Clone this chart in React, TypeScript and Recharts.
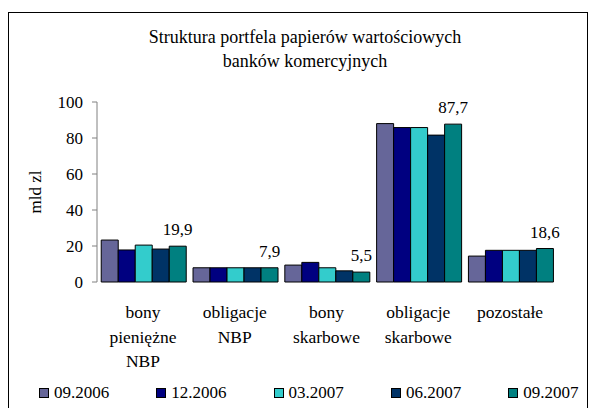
import { Bar, BarChart, LabelList, Legend, XAxis, YAxis } from "recharts";

const categories = [
	"bony\npieniężne\nNBP",
	"obligacje\nNBP",
	"bony\nskarbowe",
	"obligacje\nskarbowe",
	"pozostałe",
];
const seriesNames = ["09.2006", "12.2006", "03.2007", "06.2007", "09.2007"];
const seriesColors = ["#666699", "#000080", "#33CCCC", "#003366", "#008080"];
const values0906 = [23.3, 7.9, 9.4, 88.0, 14.4];
const values1206 = [17.8, 7.9, 10.9, 85.8, 17.6];
const values0307 = [20.5, 7.9, 7.9, 85.8, 17.6];
const values0607 = [18.3, 7.9, 6.2, 81.6, 17.6];
const values0907 = [19.9, 7.9, 5.5, 87.7, 18.6];
const yTicks = [0, 20, 40, 60, 80, 100];
const boundaryTicks = [0, 1, 2, 3, 4, 5];

const seriesValues = [values0906, values1206, values0307, values0607, values0907];

const data = categories.map((name, i) => {
	const row: Record<string, string | number> = { name };
	seriesNames.forEach((s, j) => {
		row[s] = seriesValues[j][i];
	});
	return row;
});

const FONT = "'Liberation Serif', 'Times New Roman', serif";

function CategoryTick(props: any) {
	const { x, y, payload } = props;
	const lines = String(payload.value).split("\n");
	return (
		<text
			x={x}
			y={y}
			textAnchor="middle"
			fontFamily={FONT}
			fontSize={17.5}
			fill="#000"
		>
			{lines.map((line, i) => (
				<tspan key={i} x={x} dy={i === 0 ? 28 : 24.5}>
					{line}
				</tspan>
			))}
		</text>
	);
}

function LegendContent() {
	return (
		<div style={{ position: "relative", height: 20, fontFamily: FONT }}>
			{seriesNames.map((s, i) => (
				<div
					key={s}
					style={{
						position: "absolute",
						left: 39 + i * 117.3,
						top: 0,
						height: 20,
						lineHeight: "20px",
						fontSize: 17,
						whiteSpace: "nowrap",
						display: "flex",
						alignItems: "center",
					}}
				>
					<span
						style={{
							display: "inline-block",
							width: 8,
							height: 8,
							border: "1px solid #000",
							background: seriesColors[i],
							marginRight: 5,
						}}
					/>
					{s}
				</div>
			))}
		</div>
	);
}

export default function App() {
	return (
		<div
			style={{
				position: "absolute",
				left: 0,
				top: 0,
				width: 589,
				height: 408,
				overflow: "hidden",
				background: "#fff",
			}}
		>
			<div
				style={{
					position: "absolute",
					left: 8,
					top: 12,
					width: 578,
					height: 420,
					border: "1px solid #000",
				}}
			/>
			<div
				style={{
					position: "absolute",
					left: 105,
					top: 25,
					width: 400,
					textAlign: "center",
					fontFamily: FONT,
					fontSize: 18,
					lineHeight: "24px",
				}}
			>
				Struktura portfela papierów wartościowych
				<br />
				banków komercyjnych
			</div>
			<div style={{ position: "absolute", left: 0, top: 0 }}>
				<BarChart
					width={589}
					height={408}
					data={data}
					margin={{ top: 102, right: 33, left: 37, bottom: 6 }}
					barCategoryGap="4.6%"
					barGap={0}
				>
					<XAxis
						xAxisId="grid"
						type="number"
						domain={[0, 5]}
						ticks={boundaryTicks}
						tick={false}
						height={0}
						tickSize={5}
						stroke="#808080"
						allowDecimals={false}
					/>
					<XAxis
						xAxisId="cat"
						dataKey="name"
						axisLine={false}
						tickLine={false}
						height={100}
						interval={0}
						tick={<CategoryTick />}
					/>
					<YAxis
						width={60}
						domain={[0, 100]}
						ticks={yTicks}
						tickSize={5}
						tickMargin={9}
						stroke="#808080"
						tick={{ fill: "#000", fontSize: 17, fontFamily: FONT }}
						label={(p: any) => {
							const vb = p.viewBox || { x: 37, y: 102, height: 180 };
							const cx = vb.x - 2;
							const cy = vb.y + vb.height / 2;
							return (
								<text
									x={cx}
									y={cy}
									transform={`rotate(-90, ${cx}, ${cy})`}
									textAnchor="middle"
									dominantBaseline="central"
									fontFamily={FONT}
									fontSize={17}
									fill="#000"
								>
									mld zl
								</text>
							);
						}}
					/>
					<Legend
						verticalAlign="bottom"
						content={<LegendContent />}
						wrapperStyle={{ left: 0, top: 383, width: 589, height: 20 }}
					/>
					{seriesNames.map((s, i) => (
						<Bar
							key={s}
							xAxisId="cat"
							dataKey={s}
							fill={seriesColors[i]}
							stroke="#000"
							strokeWidth={1}
							isAnimationActive={false}
						>
							{i === seriesNames.length - 1 && (
								<LabelList
									dataKey={s}
									position="top"
									offset={11}
									fontSize={17}
									fontFamily={FONT}
									fill="#000"
									formatter={(v: any) => String(v).replace(".", ",")}
								/>
							)}
						</Bar>
					))}
				</BarChart>
			</div>
		</div>
	);
}
